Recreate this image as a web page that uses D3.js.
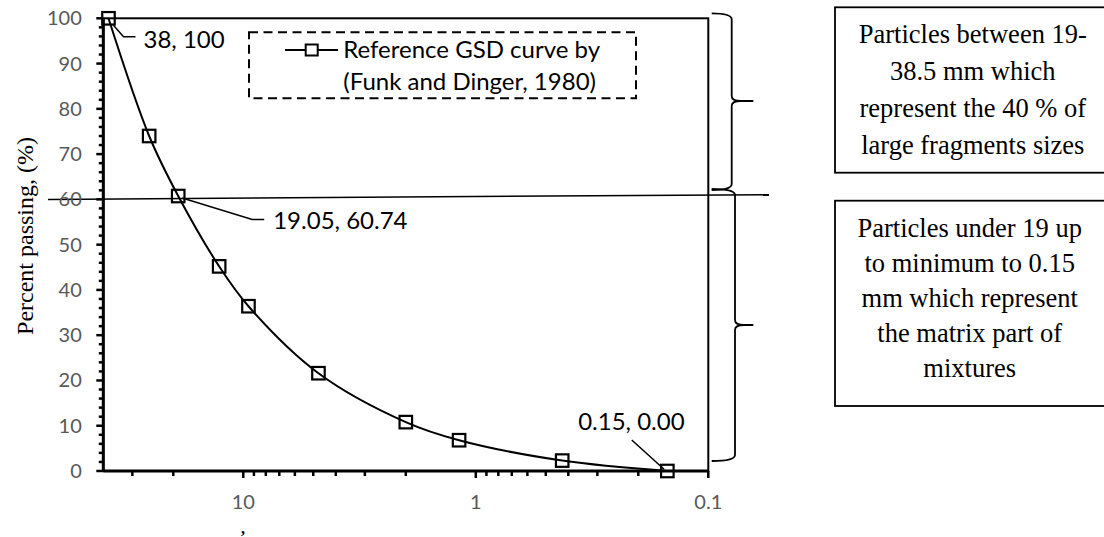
<!DOCTYPE html>
<html>
<head>
<meta charset="utf-8">
<script src="https://cdn.jsdelivr.net/npm/d3@7"></script>
<style>
  html, body { margin: 0; padding: 0; background: #fff; }
  svg { display: block; }
</style>
</head>
<body>
<svg id="chart" width="1104" height="537"></svg>
<script>
// ---- data ----
const sizes   = [38, 25.4, 19.05, 12.7, 9.5, 4.75, 2.0, 1.18, 0.425, 0.15];
const passing = [100, 74.0, 60.74, 45.2, 36.4, 21.6, 10.8, 6.8, 2.3, 0];
const xMajorTicks = [10, 1, 0.1];
const xMinorTicks = [30, 20, 9, 8, 7, 6, 5, 4, 3, 2, 0.9, 0.8, 0.7, 0.6, 0.5, 0.4, 0.3, 0.2];
const yMajorTicks = [0, 10, 20, 30, 40, 50, 60, 70, 80, 90, 100];
const yMinorTicks = d3.range(0, 101, 2).filter(v => v % 10 !== 0);
const dataLabels = [
  {i: 0, text: "38, 100"},
  {i: 2, text: "19.05, 60.74"},
  {i: 9, text: "0.15, 0.00"}
];
const legendLines = ["Reference GSD curve by", "(Funk and Dinger, 1980)"];
const yTitle = "Percent passing, (%)";
const xTitle = ",";
const box1Lines = ["Particles between 19-", "38.5 mm which", "represent the 40 % of", "large fragments sizes"];
const box2Lines = ["Particles under 19 up", "to minimum to 0.15", "mm which represent", "the matrix part of", "mixtures"];

const points = sizes.map((s, i) => ({size: s, pass: passing[i]}));

// ---- layout ----
const svg = d3.select("#chart");
const L = 103.3, R = 708.3, T = 18.3, B = 471;
const x = d3.scaleLog().domain([40, 0.1]).range([L, R]);
const y = d3.scaleLinear().domain([0, 100]).range([B, T]);

const sans = "Lato, 'Open Sans', sans-serif";
const serif = "'Liberation Serif', 'Times New Roman', serif";

// plot frame
svg.append("rect").attr("x", L).attr("y", T).attr("width", R - L).attr("height", B - T)
  .attr("fill", "none").attr("stroke", "#000").attr("stroke-width", 2);

// threshold line (slightly tilted, as drawn)
svg.append("line")
  .attr("x1", 48).attr("y1", y(60))
  .attr("x2", 769).attr("y2", y(61.05))
  .attr("stroke", "#000").attr("stroke-width", 1.5);

// x axis
const gx = svg.append("g").attr("transform", `translate(0,${B})`);
gx.append("line").attr("x1", L).attr("x2", R).attr("stroke", "#000").attr("stroke-width", 3);
gx.selectAll(".xmaj").data(xMajorTicks).join("line")
  .attr("x1", d => x(d)).attr("x2", d => x(d)).attr("y1", 0).attr("y2", 7)
  .attr("stroke", "#000").attr("stroke-width", 2.5);
gx.selectAll(".xmin").data(xMinorTicks).join("line")
  .attr("x1", d => x(d)).attr("x2", d => x(d)).attr("y1", 0).attr("y2", 5)
  .attr("stroke", "#000").attr("stroke-width", 2.5);
gx.selectAll(".xlab").data(xMajorTicks).join("text")
  .attr("x", d => x(d)).attr("y", 31).attr("dy", "0.35em")
  .attr("text-anchor", "middle").attr("font-family", sans).attr("font-size", 20)
  .attr("fill", "#595959").text(d => d3.format("~g")(d));

// y axis
const gy = svg.append("g").attr("transform", `translate(${L},0)`);
gy.append("line").attr("y1", T).attr("y2", B).attr("stroke", "#000").attr("stroke-width", 3);
gy.selectAll(".ymaj").data(yMajorTicks).join("line")
  .attr("y1", d => y(d)).attr("y2", d => y(d)).attr("x1", 0).attr("x2", -7)
  .attr("stroke", "#000").attr("stroke-width", 2.5);
gy.selectAll(".ymin").data(yMinorTicks).join("line")
  .attr("y1", d => y(d)).attr("y2", d => y(d)).attr("x1", 0).attr("x2", -4.5)
  .attr("stroke", "#000").attr("stroke-width", 2.5);
gy.selectAll(".ylab").data(yMajorTicks).join("text")
  .attr("x", -21.5).attr("y", d => y(d)).attr("dy", "0.35em")
  .attr("text-anchor", "end").attr("font-family", sans).attr("font-size", 20)
  .attr("fill", "#595959").text(d => d);

// axis titles
svg.append("text")
  .attr("transform", `translate(25,236) rotate(-90)`)
  .attr("text-anchor", "middle").attr("dy", "0.32em")
  .attr("font-family", serif).attr("font-size", 24).attr("fill", "#000")
  .text(yTitle);
svg.append("text").attr("x", 243).attr("y", 534)
  .attr("text-anchor", "middle").attr("font-family", serif).attr("font-size", 16)
  .attr("font-weight", "bold")
  .attr("fill", "#000").text(xTitle);

// curve
const line = d3.line().x(d => x(d.size)).y(d => y(d.pass)).curve(d3.curveCatmullRom.alpha(0.5));
svg.append("path").datum(points).attr("d", line)
  .attr("fill", "none").attr("stroke", "#000").attr("stroke-width", 2);

// markers
const ms = 12.5;
svg.selectAll(".mk").data(points).join("rect")
  .attr("x", d => x(d.size) - ms / 2).attr("y", d => y(d.pass) - ms / 2)
  .attr("width", ms).attr("height", ms)
  .attr("fill", "none").attr("stroke", "#000").attr("stroke-width", 2.2);

// data labels with leader lines
function pt(i) { return [x(points[i].size), y(points[i].pass)]; }
const lblStyle = sel => sel.attr("font-family", sans).attr("font-size", 24).attr("fill", "#000");
{
  const [px, py] = pt(0);
  svg.append("path").attr("d", `M${px + 5},${py + 7} L${px + 15},${py + 18.4} L${px + 27},${py + 18.4}`)
    .attr("fill", "none").attr("stroke", "#000").attr("stroke-width", 1.5);
  svg.append("text").attr("x", px + 35).attr("y", py + 21).attr("dy", "0.35em").call(lblStyle).text(dataLabels[0].text);
}
{
  const [px, py] = pt(2);
  svg.append("path").attr("d", `M${px + 4},${py + 2} L${px + 74},${py + 23.5} L${px + 86},${py + 23.5}`)
    .attr("fill", "none").attr("stroke", "#000").attr("stroke-width", 1.5);
  svg.append("text").attr("x", px + 95).attr("y", py + 25).attr("dy", "0.35em").call(lblStyle).text(dataLabels[1].text);
}
{
  const [px, py] = pt(9);
  svg.append("path").attr("d", `M${px - 35.6},${py - 31} L${px - 3.3},${py - 1.7}`)
    .attr("fill", "none").attr("stroke", "#000").attr("stroke-width", 1.5);
  svg.append("text").attr("x", px - 36).attr("y", py - 49.3).attr("dy", "0.35em")
    .attr("text-anchor", "middle").call(lblStyle).text(dataLabels[2].text);
}

// legend
const lg = svg.append("g");
lg.append("rect").attr("x", 249).attr("y", 32.3).attr("width", 387).attr("height", 66)
  .attr("fill", "#fff").attr("stroke", "#000").attr("stroke-width", 2).attr("stroke-dasharray", "9,5.5");
lg.append("line").attr("x1", 285).attr("x2", 338).attr("y1", 50).attr("y2", 50)
  .attr("stroke", "#000").attr("stroke-width", 2);
lg.append("rect").attr("x", 311.7 - 6).attr("y", 50 - 5.5).attr("width", 12).attr("height", 11)
  .attr("fill", "#fff").attr("stroke", "#000").attr("stroke-width", 2);
lg.selectAll(".lt").data(legendLines).join("text")
  .attr("x", 343.3).attr("y", (d, i) => 50 + i * 31.7).attr("dy", "0.35em")
  .call(lblStyle).text(d => d);

// braces
const braceStyle = sel => sel.attr("fill", "none").attr("stroke", "#000").attr("stroke-width", 1.8);
function brace(x0, xv, xt, y0, ym, y1) {
  return `M${x0},${y0} Q${xv},${y0} ${xv},${y0 + 6} V${ym - 5} Q${xv},${ym} ${xv + 9},${ym} H${xt}` +
         ` M${xv + 9},${ym} Q${xv},${ym} ${xv},${ym + 5} V${y1 - 6} Q${xv},${y1} ${x0},${y1}`;
}
svg.append("path").attr("d", brace(711.7, 731.7, 753.3, 13.3, 101, 190)).call(braceStyle);
svg.append("path").attr("d", brace(711.7, 735, 753.3, 189, 325, 461)).call(braceStyle);

// text boxes
function textBox(bx, by, bw, bh, lines, cx, firstY, lh) {
  svg.append("rect").attr("x", bx).attr("y", by).attr("width", bw).attr("height", bh)
    .attr("fill", "#fff").attr("stroke", "#000").attr("stroke-width", 1.8);
  svg.selectAll(null).data(lines).join("text")
    .attr("x", cx).attr("y", (d, i) => firstY + i * lh).attr("dy", "0.32em")
    .attr("text-anchor", "middle").attr("font-family", serif).attr("font-size", 26.5)
    .attr("fill", "#000").text(d => d);
}
textBox(835, 7.3, 275, 165.4, box1Lines, 972.8, 35, 36.7);
textBox(835, 200.7, 275, 205.3, box2Lines, 969.7, 228.3, 35);
</script>
</body>
</html>
